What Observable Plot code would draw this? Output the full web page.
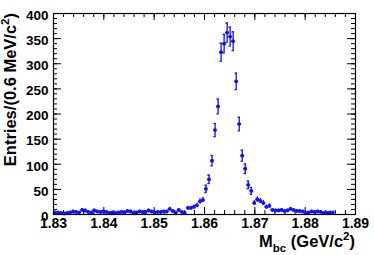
<!DOCTYPE html>
<html><head><meta charset="utf-8">
<script src="https://cdn.jsdelivr.net/npm/d3@7"></script>
<script src="https://cdn.jsdelivr.net/npm/@observablehq/plot@0.6"></script>
<style>html,body{margin:0;padding:0;background:#fff}</style>
</head><body><div id="chart"></div>
<script>
// Histogram: 100 bins of 0.6 MeV from 1.83 to 1.89 GeV
const binStart = 1.83;
const binWidth = 0.0006;
const counts = [
  4,4,3,2,3,4,6,5,4,9,
  8,5,4,8,6,5,6,5,3,4,
  3,4,5,4,7,6,3,4,6,5,
  5,8,6,4,5,5,6,6,11,7,
  4,9,5,3,13,13,15,18,26,29,
  51,70,107,168,215,323,340,362,354,345,
  265,180,117,91,59,47,23,30,27,23,
  15,17,9,8,8,9,7,8,11,9,
  7,7,6,3,4,6,5,6,5,3,
  3,4,4,0,0,0,0,0,0,0
];
const xTicks = [1.83, 1.84, 1.85, 1.86, 1.87, 1.88, 1.89];
const xMinor = d3.range(0, 31).map(i => 1.83 + i * 0.002);
const yTicks = [0, 50, 100, 150, 200, 250, 300, 350, 400];
const yMinor = d3.range(0, 41).map(i => i * 10);
const xTitle = ["M", "bc", " (GeV/c", "2", ")"];
const yTitle = ["Entries/(0.6 MeV/c", "2", ")"];

const data = counts.map((n, i) => ({
  x: binStart + (i + 0.5) * binWidth,
  x1: binStart + i * binWidth,
  x2: binStart + (i + 1) * binWidth,
  n, e: Math.sqrt(n)
})).filter(d => d.n > 0);

const W = 374, H = 255, mL = 53, mR = 19, mT = 13, mB = 41;
const iW = W - mL - mR, iH = H - mT - mB;
const col = "#1010ff";
const font = "'Liberation Sans', Arial, Helvetica, sans-serif";
const capHalf = 0.00024;

const chart = Plot.plot({
  width: W, height: H,
  marginLeft: mL, marginRight: mR, marginTop: mT, marginBottom: mB,
  style: {fontFamily: font, background: "#fff", color: "#000"},
  x: {domain: [1.83, 1.89], label: null},
  y: {domain: [0, 400], label: null},
  marks: [
    // ticks (inward, ROOT-style, on all four sides)
    Plot.tickX(xTicks, {x: d => d, insetTop: iH - 7, stroke: "#000"}),
    Plot.tickX(xTicks, {x: d => d, insetBottom: iH - 7, stroke: "#000"}),
    Plot.tickX(xMinor, {x: d => d, insetTop: iH - 4, stroke: "#000"}),
    Plot.tickX(xMinor, {x: d => d, insetBottom: iH - 4, stroke: "#000"}),
    Plot.tickY(yTicks, {y: d => d, insetRight: iW - 8, stroke: "#000"}),
    Plot.tickY(yTicks, {y: d => d, insetLeft: iW - 8, stroke: "#000"}),
    Plot.tickY(yMinor, {y: d => d, insetRight: iW - 4, stroke: "#000"}),
    Plot.tickY(yMinor, {y: d => d, insetLeft: iW - 4, stroke: "#000"}),
    Plot.axisX(xTicks, {anchor: "bottom", label: null, tickSize: 0, tickPadding: 4, tickFormat: d => d.toFixed(2),
      fontSize: 14, fontWeight: "bold", fill: "#000"}),
    Plot.axisY(yTicks, {anchor: "left", label: null, tickSize: 0, tickPadding: 5, dy: 2, tickFormat: d => String(d),
      fontSize: 13.5, fontWeight: "bold", fill: "#000"}),
    // error bars
    Plot.ruleY(data, {y: "n", x1: "x1", x2: "x2", stroke: col, strokeWidth: 1.3}),
    Plot.ruleX(data, {x: "x", y1: d => d.n - d.e, y2: d => d.n + d.e, stroke: col, strokeWidth: 1.3}),
    Plot.ruleY(data.filter(d => d.n > 30), {y: d => d.n + d.e, x1: d => d.x - capHalf, x2: d => d.x + capHalf, stroke: col, strokeWidth: 1.3}),
    Plot.ruleY(data.filter(d => d.n > 30), {y: d => d.n - d.e, x1: d => d.x - capHalf, x2: d => d.x + capHalf, stroke: col, strokeWidth: 1.3}),
    Plot.dot(data, {x: "x", y: "n", r: 1.9, fill: col, stroke: "none"}),
    Plot.frame({stroke: "#000", strokeWidth: 1.2})
  ]
});
document.getElementById("chart").appendChild(chart);

const svg = d3.select(chart);
const xt = svg.append("text")
  .attr("x", W - mR).attr("y", 247)
  .attr("text-anchor", "end")
  .attr("font-family", font).attr("font-weight", "bold").attr("font-size", 16.5).attr("fill", "#000");
xt.append("tspan").text(xTitle[0]);
xt.append("tspan").attr("font-size", 11.5).attr("dy", 4.5).text(xTitle[1]);
xt.append("tspan").attr("dy", -4.5).text(xTitle[2]);
xt.append("tspan").attr("font-size", 11.5).attr("dy", -7).text(xTitle[3]);
xt.append("tspan").attr("dy", 7).text(xTitle[4]);

const yt = svg.append("text")
  .attr("transform", `translate(15.5,${mT}) rotate(-90)`)
  .attr("text-anchor", "end")
  .attr("font-family", font).attr("font-weight", "bold").attr("font-size", 16.5).attr("fill", "#000");
yt.append("tspan").text(yTitle[0]);
yt.append("tspan").attr("font-size", 11.5).attr("dy", -7).text(yTitle[1]);
yt.append("tspan").attr("dy", 7).text(yTitle[2]);
</script>
</body></html>
